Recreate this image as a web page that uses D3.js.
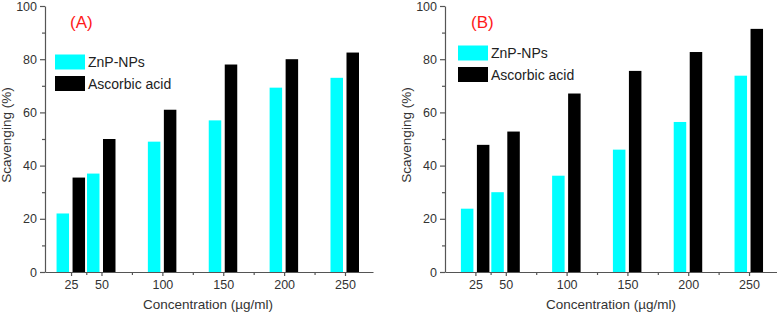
<!DOCTYPE html>
<html>
<head>
<meta charset="utf-8">
<script src="https://cdn.jsdelivr.net/npm/d3@7"></script>
<style>
  html, body { margin: 0; padding: 0; background: #fff; }
  svg { display: block; font-family: Arial, 'Liberation Sans', sans-serif; }
</style>
</head>
<body>
<div id="chart"></div>
<script>
const concentrations = [25, 50, 100, 150, 200, 250];
const minorConc = [37.5, 75, 125, 175, 225];
const yTicks = [0, 20, 40, 60, 80, 100];
const yMinor = [10, 30, 50, 70, 90];
const seriesNames = ['ZnP-NPs', 'Ascorbic acid'];

const znpA = [22, 37, 49, 57, 69.3, 73];
const ascorbicA = [35.5, 50, 61, 78, 80, 82.5];
const znpB = [23.8, 30, 36.2, 46, 56.4, 73.8];
const ascorbicB = [47.8, 52.8, 67.1, 75.6, 82.7, 91.4];

const colors = ['#00ffff', '#000000'];
const axisColor = '#555';
const textColor = '#333';

const svg = d3.select('#chart').append('svg')
  .attr('width', 777).attr('height', 317);

function panel(opts) {
  const { label, series, xDomain, xRange, titleX, legend } = opts;
  const g = svg.append('g');

  const x = d3.scaleLinear().domain(xDomain).range(xRange);
  const y = d3.scaleLinear().domain([0, 100]).range([272, 6]);

  // bars
  const barW = 12.5;
  const offsets = [-14.5, 1.5];
  series.forEach((vals, si) => {
    g.append('g').selectAll('rect')
      .data(concentrations.map((c, i) => ({ c, v: vals[i] })))
      .enter().append('rect')
      .attr('x', d => x(d.c) + offsets[si])
      .attr('y', d => y(d.v))
      .attr('width', barW)
      .attr('height', d => y(0) - y(d.v))
      .attr('fill', colors[si]);
  });

  // y axis
  g.append('g')
    .attr('transform', `translate(${xRange[0]},0)`)
    .call(d3.axisLeft(y).tickValues(yTicks).tickSize(5).tickSizeOuter(0).tickPadding(3));
  g.append('g')
    .attr('transform', `translate(${xRange[0]},0)`)
    .call(d3.axisLeft(y).tickValues(yMinor).tickSize(3).tickSizeOuter(0).tickFormat(''))
    .select('.domain').remove();

  // x axis
  g.append('g')
    .attr('transform', `translate(0,${y(0)})`)
    .call(d3.axisBottom(x).tickValues(concentrations).tickSize(4).tickSizeOuter(0).tickPadding(4));
  g.append('g')
    .attr('transform', `translate(0,${y(0)})`)
    .call(d3.axisBottom(x).tickValues(minorConc).tickSize(3).tickSizeOuter(0).tickFormat(''))
    .select('.domain').remove();

  g.selectAll('.domain, .tick line').attr('stroke', axisColor).attr('stroke-width', 1.2);
  g.selectAll('.tick text')
    .attr('fill', textColor)
    .attr('font-size', '12.5px')
    .attr('font-family', "Arial, 'Liberation Sans', sans-serif");

  // axis titles
  g.append('text')
    .attr('transform', `translate(${xRange[0] - 34},135) rotate(-90)`)
    .attr('text-anchor', 'middle')
    .attr('fill', textColor)
    .attr('font-size', '13.5px')
    .text('Scavenging (%)');

  g.append('text')
    .attr('x', xRange[0] + (opts.xTitleShift || 0))
    .attr('y', 309)
    .attr('text-anchor', 'middle')
    .attr('fill', textColor)
    .attr('font-size', '13.5px')
    .text('Concentration (\u00b5g/ml)');

  // panel label
  g.append('text')
    .attr('x', titleX).attr('y', 28)
    .attr('fill', '#ff1a1a')
    .attr('font-size', '17px')
    .text(label);

  // legend
  seriesNames.forEach((name, i) => {
    const ly = legend.y + i * 21.5;
    g.append('rect')
      .attr('x', legend.x).attr('y', ly)
      .attr('width', 30).attr('height', 15)
      .attr('fill', colors[i]);
    g.append('text')
      .attr('x', legend.x + 33).attr('y', ly + 12.5)
      .attr('fill', '#222')
      .attr('font-size', '14px')
      .text(name);
  });
}

panel({
  label: '(A)',
  series: [znpA, ascorbicA],
  xDomain: [3.6, 273],
  xRange: [45, 373],
  xTitleShift: 163,
  titleX: 70,
  legend: { x: 55, y: 54.5 }
});

panel({
  label: '(B)',
  series: [znpB, ascorbicB],
  xDomain: [0, 273],
  xRange: [445, 777],
  xTitleShift: 166,
  titleX: 471,
  legend: { x: 458, y: 45.5 }
});
</script>
</body>
</html>
